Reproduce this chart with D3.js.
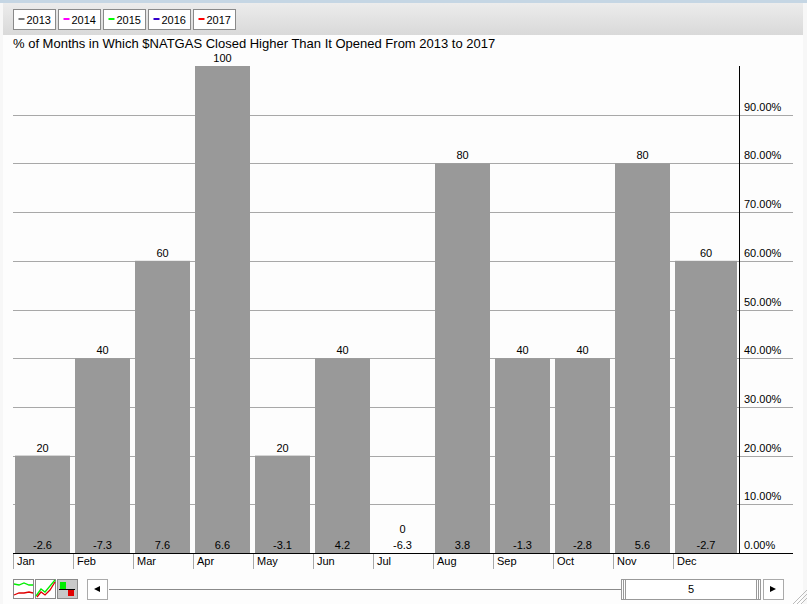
<!DOCTYPE html>
<html>
<head>
<meta charset="utf-8">
<script src="https://cdn.jsdelivr.net/npm/d3@7"></script>
<style>
  html, body { margin: 0; padding: 0; background: #fff; }
  svg { display: block; }
  text { font-family: "Liberation Sans", Arial, sans-serif; fill: #000; }
</style>
</head>
<body>
<svg width="807" height="604"></svg>
<script>
// Data
const months = ["Jan", "Feb", "Mar", "Apr", "May", "Jun", "Jul", "Aug", "Sep", "Oct", "Nov", "Dec"];
const pctHigher = [20, 40, 60, 100, 20, 40, 0, 80, 40, 40, 80, 60];
const avgChange = [-2.6, -7.3, 7.6, 6.6, -3.1, 4.2, -6.3, 3.8, -1.3, -2.8, 5.6, -2.7];
const years = ["2013", "2014", "2015", "2016", "2017"];
const yearColors = ["#777777", "#ff00ff", "#00ff00", "#3300cc", "#ff0000"];
const yTicks = [0, 10, 20, 30, 40, 50, 60, 70, 80, 90];
const title = "% of Months in Which $NATGAS Closed Higher Than It Opened From 2013 to 2017";
const sliderValue = "5";

const svg = d3.select("svg");

// window chrome
const defs = svg.append("defs");
const grad = defs.append("linearGradient").attr("id", "toolbar").attr("x2", 0).attr("y2", 1);
grad.append("stop").attr("offset", 0).attr("stop-color", "#ececec");
grad.append("stop").attr("offset", 1).attr("stop-color", "#d9d9d9");

svg.append("rect").attr("width", 807).attr("height", 604).attr("fill", "#f7f7f7");
svg.append("rect").attr("x", 3).attr("y", 35).attr("width", 800).attr("height", 569).attr("fill", "#fdfdfd");
svg.append("rect").attr("width", 807).attr("height", 3).attr("fill", "#c5d6e4");
svg.append("rect").attr("x", 3).attr("y", 3).attr("width", 800).attr("height", 32).attr("fill", "url(#toolbar)");

// legend buttons
const legend = svg.append("g").selectAll("g").data(years).enter().append("g")
    .attr("transform", (d, i) => `translate(${13.5 + i * 45},9.5)`);
legend.append("rect").attr("width", 42).attr("height", 20)
    .attr("fill", "#fff").attr("stroke", "#8a8a8a");
legend.append("line").attr("x1", 5).attr("x2", 11).attr("y1", 9.5).attr("y2", 9.5)
    .attr("stroke", (d, i) => yearColors[i]).attr("stroke-width", 2);
legend.append("text").text(d => d).attr("x", 13).attr("y", 14).style("font-size", "11px");

svg.append("text").text(title).attr("x", 13).attr("y", 48).style("font-size", "13px");

// scales
const x = d3.scaleBand().domain(months).range([13, 732]).paddingInner(5 / 60).paddingOuter(2 / 60);
const y = d3.scaleLinear().domain([0, 100]).range([553, 66]);

// gridlines
svg.append("g").selectAll("line").data(yTicks.slice(1)).enter().append("line")
    .attr("x1", 13).attr("x2", 793)
    .attr("y1", d => Math.round(y(d)) + 0.5).attr("y2", d => Math.round(y(d)) + 0.5)
    .attr("stroke", "#a8a8a8");

// last bar runs on up to the axis, so it is wider than the others
const barWidth = i => x.bandwidth() + (i === months.length - 1 ? 7 : 0);

// bars
svg.append("g").selectAll("rect").data(pctHigher).enter().append("rect")
    .attr("x", (d, i) => x(months[i]))
    .attr("y", d => y(d))
    .attr("width", (d, i) => barWidth(i))
    .attr("height", d => y(0) - y(d))
    .attr("fill", "#999999");

// value labels above the bars, kept clear of the change labels
svg.append("g").selectAll("text").data(pctHigher).enter().append("text")
    .text(d => d)
    .attr("x", (d, i) => x(months[i]) + barWidth(i) / 2)
    .attr("y", d => Math.min(y(d) - 4, 533))
    .attr("text-anchor", "middle")
    .style("font-size", "11px");

// average change labels inside the bars
svg.append("g").selectAll("text").data(avgChange).enter().append("text")
    .text(d => d)
    .attr("x", (d, i) => x(months[i]) + barWidth(i) / 2)
    .attr("y", 549)
    .attr("text-anchor", "middle")
    .style("font-size", "11px");

// right axis
svg.append("line").attr("x1", 739.5).attr("x2", 739.5).attr("y1", 66).attr("y2", 553).attr("stroke", "#000");
svg.append("g").selectAll("text").data(yTicks).enter().append("text")
    .text(d => d3.format(".2f")(d) + "%")
    .attr("x", 744)
    .attr("y", d => y(d) - 4)
    .style("font-size", "11px");

// bottom axis
svg.append("line").attr("x1", 13).attr("x2", 793).attr("y1", 553.5).attr("y2", 553.5).attr("stroke", "#000");
const monthStep = x.step();
svg.append("g").selectAll("line").data(months).enter().append("line")
    .attr("x1", (d, i) => 13.5 + i * monthStep).attr("x2", (d, i) => 13.5 + i * monthStep)
    .attr("y1", 554).attr("y2", 569).attr("stroke", "#a8a8a8");
svg.append("g").selectAll("text").data(months).enter().append("text")
    .text(d => d)
    .attr("x", (d, i) => 17 + i * monthStep)
    .attr("y", 565)
    .style("font-size", "11px");

// chart type buttons
const btns = svg.append("g");
[13.5, 35.5, 57.5].forEach((bx, i) => {
  btns.append("rect").attr("x", bx).attr("y", 579.5).attr("width", 20).attr("height", 19)
      .attr("fill", i === 2 ? "#c8c8c8" : "#fff").attr("stroke", "#8a8a8a");
});
btns.append("path").attr("d", "M14,584 L19,585 L24,583 L29,585 L33,585").attr("fill", "none").attr("stroke", "#00ee00").attr("stroke-width", 1.3);
btns.append("path").attr("d", "M14,595 L19,593 L24,593 L29,592 L33,593").attr("fill", "none").attr("stroke", "#e00000").attr("stroke-width", 1.3);
btns.append("path").attr("d", "M36,596 L41,589 L45,592 L50,586 L55,580").attr("fill", "none").attr("stroke", "#00ee00").attr("stroke-width", 1.3);
btns.append("path").attr("d", "M37,597 L41,592 L45,595 L50,590 L55,582").attr("fill", "none").attr("stroke", "#e00000").attr("stroke-width", 1.3);
btns.append("rect").attr("x", 60).attr("y", 582).attr("width", 6).attr("height", 7).attr("fill", "#00ee00");
btns.append("rect").attr("x", 68).attr("y", 589).attr("width", 6).attr("height", 7).attr("fill", "#e00000");
btns.append("line").attr("x1", 59).attr("x2", 75).attr("y1", 589.5).attr("y2", 589.5).attr("stroke", "#000");

// slider
const slider = svg.append("g");
slider.append("line").attr("x1", 109).attr("x2", 622).attr("y1", 589.5).attr("y2", 589.5).attr("stroke", "#8a8a8a");
slider.append("rect").attr("x", 87.5).attr("y", 579.5).attr("width", 20).attr("height", 20).attr("fill", "#fff").attr("stroke", "#aaa");
slider.append("path").attr("d", "M94,589 L100,586 L100,592 Z").attr("fill", "#000");
slider.append("rect").attr("x", 763.5).attr("y", 579.5).attr("width", 20).attr("height", 20).attr("fill", "#fff").attr("stroke", "#aaa");
slider.append("path").attr("d", "M770,586 L776,589 L770,592 Z").attr("fill", "#000");
slider.append("rect").attr("x", 621.5).attr("y", 579.5).attr("width", 139).attr("height", 20).attr("fill", "#fff").attr("stroke", "#999");
[623.5, 625.5, 756.5, 758.5].forEach(lx => {
  slider.append("line").attr("x1", lx).attr("x2", lx).attr("y1", 580).attr("y2", 599).attr("stroke", "#999");
});
slider.append("text").text(sliderValue).attr("x", 691).attr("y", 593).attr("text-anchor", "middle").style("font-size", "11px");

// resize grip
[0, 4, 8].forEach(o => {
  svg.append("line").attr("x1", 793 + o).attr("y1", 604).attr("x2", 807).attr("y2", 590 + o).attr("stroke", "#bbb");
});
</script>
</body>
</html>
